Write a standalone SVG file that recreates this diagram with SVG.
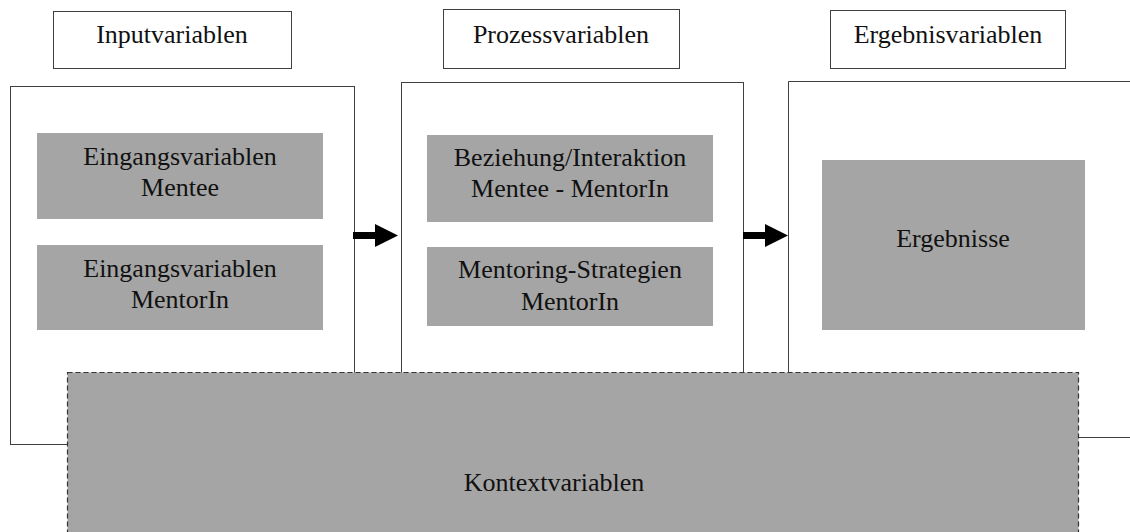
<svg xmlns="http://www.w3.org/2000/svg" width="1130" height="532" viewBox="0 0 1130 532">
<style>
.lbl{fill:#fff;stroke:#404040;stroke-width:1}
.col{fill:#fff;stroke:#404040;stroke-width:1}
.inner{fill:#a5a5a5;stroke:none}
.ctx{fill:#a5a5a5;stroke:#333;stroke-width:1.2;stroke-dasharray:5,3}
.t{font-family:'Liberation Serif','Times New Roman','DejaVu Serif',serif;font-size:26px;fill:#111;text-anchor:middle}
.arrow{fill:#000}
</style>
<rect width="1130" height="532" fill="#fff"/>
<g id="label-input"><rect class="lbl" x="53.5" y="11.5" width="238" height="57"/><text class="t" x="172" y="43">Inputvariablen</text></g>
<g id="label-prozess"><rect class="lbl" x="443.5" y="9.5" width="236" height="59"/><text class="t" x="561" y="43">Prozessvariablen</text></g>
<g id="label-ergebnis"><rect class="lbl" x="830.5" y="10.5" width="235" height="58"/><text class="t" x="948" y="43">Ergebnisvariablen</text></g>
<g id="col-input"><rect class="col" x="10.5" y="86.5" width="344" height="358"/></g>
<g id="col-prozess"><rect class="col" x="401.5" y="82.5" width="342" height="300"/></g>
<g id="col-ergebnis"><path class="col" d="M1131,81.5 H788.5 V437.5 H1131"/></g>
<g id="eingang-mentee"><rect class="inner" x="37" y="133" width="286" height="86"/><text class="t" x="180" y="165">Eingangsvariablen</text><text class="t" x="180" y="196">Mentee</text></g>
<g id="eingang-mentorin"><rect class="inner" x="37" y="245" width="286" height="85"/><text class="t" x="180" y="277">Eingangsvariablen</text><text class="t" x="180" y="308">MentorIn</text></g>
<g id="beziehung"><rect class="inner" x="427" y="135" width="286" height="87"/><text class="t" x="570" y="166">Beziehung/Interaktion</text><text class="t" x="570" y="197">Mentee - MentorIn</text></g>
<g id="strategien"><rect class="inner" x="427" y="247" width="286" height="79"/><text class="t" x="570" y="278">Mentoring-Strategien</text><text class="t" x="570" y="310">MentorIn</text></g>
<g id="ergebnisse"><rect class="inner" x="822" y="160" width="263" height="170"/><text class="t" x="953" y="247">Ergebnisse</text></g>
<g id="kontext"><rect class="ctx" x="67.5" y="372.5" width="1011" height="170"/><text class="t" x="554" y="491">Kontextvariablen</text></g>
<g id="connectors">
<path class="arrow" d="M353,232 H375 V224 L398,235.5 L375,247 V239 H353 Z"/>
<path class="arrow" d="M743,232 H765 V224 L788,235.5 L765,247 V239 H743 Z"/>
</g>
</svg>
